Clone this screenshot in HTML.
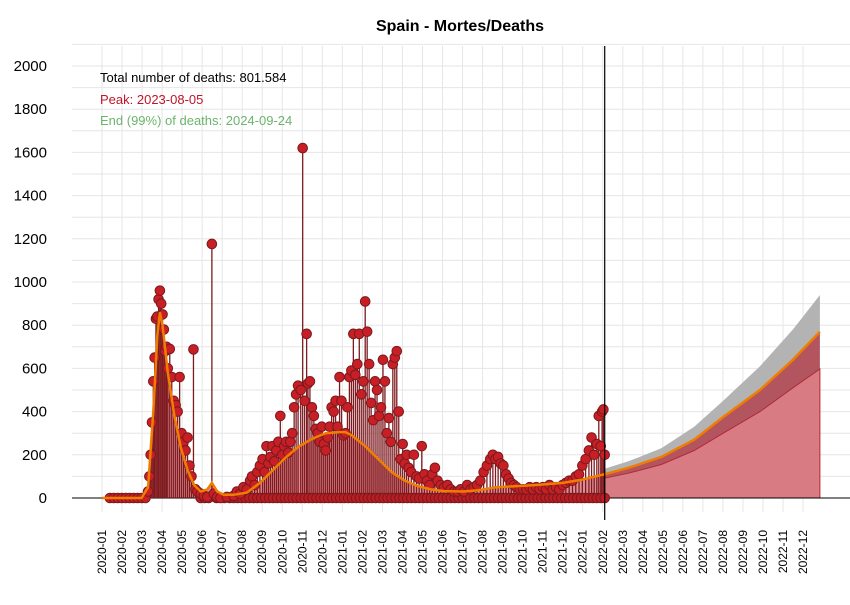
<!DOCTYPE html>
<html><head><meta charset="utf-8"><style>
body{margin:0;background:#fff;}
svg{font-family:"Liberation Sans",Arial,sans-serif;}
</style></head><body>
<svg id="chart" width="850" height="600">
<text x="460" y="31" text-anchor="middle" font-size="16" font-weight="bold">Spain - Mortes/Deaths</text>
<g id="grid"></g>
<g id="yaxis"></g>
<g id="xaxis"></g>
<g id="marks"></g>
<g>
<text x="100" y="82" font-size="13" fill="#000">Total number of deaths: 801.584</text>
<text x="100" y="104" font-size="13" fill="#c0142a">Peak: 2023-08-05</text>
<text x="100" y="125" font-size="13" fill="#6db36d">End (99%) of deaths: 2024-09-24</text>
</g>
</svg>
<script>
const monthLabels=["2020-01","2020-02","2020-03","2020-04","2020-05","2020-06","2020-07","2020-08","2020-09","2020-10","2020-11","2020-12","2021-01","2021-02","2021-03","2021-04","2021-05","2021-06","2021-07","2021-08","2021-09","2021-10","2021-11","2021-12","2022-01","2022-02","2022-03","2022-04","2022-05","2022-06","2022-07","2022-08","2022-09","2022-10","2022-11","2022-12"];
const yTicks=[0,200,400,600,800,1000,1200,1400,1600,1800,2000];
// daily deaths: day index since 2020-01-01
const dailyDays=[12,18,24,30,36,42,48,54,60,66,70,72,74,76,78,80,82,84,86,88,90,92,94,96,98,100,103,106,109,112,115,118,121,124,127,130,133,136,139,142,145,150,155,160,167,170,175,180,190,200,205,210,215,220,225,228,232,236,240,244,247,250,253,256,259,262,265,268,271,274,277,280,283,286,289,292,295,298,302,305,308,311,313,316,319,322,325,328,331,334,337,340,343,346,349,352,355,358,361,364,367,370,373,376,379,382,385,388,391,394,397,400,403,406,409,412,415,418,421,424,427,430,433,436,439,442,445,448,451,454,457,460,463,466,470,474,478,482,486,490,494,498,502,506,510,515,520,525,530,535,540,545,550,555,560,565,570,575,580,585,590,594,598,602,606,610,614,618,622,626,630,635,640,645,650,655,660,665,670,675,680,685,690,695,700,705,710,715,720,725,730,735,740,744,748,752,755,758,760,762,764];
const dailyDeaths=[0,0,0,0,0,0,0,0,0,0,30,100,200,350,540,650,830,840,920,960,900,850,780,680,700,600,690,560,450,430,400,560,300,260,220,280,150,100,688,40,30,20,10,5,1176,20,5,0,5,10,30,20,50,40,80,100,60,120,150,180,120,240,160,190,240,170,220,260,380,200,240,260,210,260,300,420,480,520,500,1620,450,760,530,540,420,380,320,300,260,330,250,220,280,330,420,400,450,330,560,450,290,300,420,560,590,760,570,620,760,480,540,910,770,620,440,360,540,500,380,420,640,540,300,370,260,620,650,680,400,180,250,160,200,140,120,200,100,90,240,110,80,60,110,140,80,60,50,60,40,30,30,40,30,60,40,50,60,80,120,150,180,200,180,190,160,150,110,90,70,60,50,40,40,40,50,40,50,40,50,40,60,40,50,40,60,70,80,80,100,110,150,180,220,280,200,250,380,240,400,410,200];
// days with zero reported deaths (weekend/no-report days)
const zeroReportDays=[150,156,162,174,186,194,200,206,212,218,224,230,236,242,248,254,260,266,272,278,284,290,296,302,308,314,320,326,332,338,344,350,356,362,368,374,380,386,392,398,404,410,416,422,428,434,440,446,452,458,464,470,476,482,488,494,500,506,512,518,524,530,536,542,548,554,560,566,572,578,584,590,596,602,608,614,620,626,632,638,644,650,656,662,668,674,680,686,692,698,704,710,716,722,728,734,740,746,752,758,764];
const trendDays=[0,60,70,78,84,88,92,100,110,120,130,140,150,160,167,175,185,200,220,240,260,280,300,320,340,360,370,380,400,420,440,460,480,500,520,549,570,600,630,660,700,730,764];
const trendVals=[0,0,50,400,750,860,800,580,380,230,130,60,30,40,70,30,15,15,25,70,130,190,240,275,300,305,305,290,240,180,120,80,55,40,32,30,35,50,55,60,70,85,110];
const fcDays=[764,800,850,900,944,1000,1050,1091];
const fcTrend=[110,140,190,270,375,500,640,770];
const fcUpper=[135,170,230,330,450,610,780,940];
const fcLower=[92,115,155,220,300,400,510,597];

const NS="http://www.w3.org/2000/svg";
const X=d=>102+d*0.658;
const Y=v=>498-v*0.216;
function mk(tag,attrs,parent){const e=document.createElementNS(NS,tag);for(const k in attrs)e.setAttribute(k,attrs[k]);parent.appendChild(e);return e;}
const grid=document.getElementById('grid'),yax=document.getElementById('yaxis'),xax=document.getElementById('xaxis'),marks=document.getElementById('marks');
for(let v=0;v<=2100;v+=100){const l=mk('line',{x1:72,x2:850,y1:Y(v),y2:Y(v),stroke:'#e6e6e6','stroke-width':1},grid);

}
monthLabels.forEach((m,i)=>{const x=102+i*20.03;
const l=mk('line',{x1:x,x2:x,y1:46,y2:512,stroke:'#e6e6e6','stroke-width':1},grid);


const t=mk('text',{x:0,y:0,'font-size':12,'text-anchor':'end',transform:`translate(${x+4},530) rotate(-90)`},xax);
t.textContent=m;

});
yTicks.forEach(v=>{const t=mk('text',{x:47,y:Y(v)+5,'font-size':15,'text-anchor':'end'},yax);t.textContent=v;

});
function pts(ds,vs){return ds.map((d,i)=>X(d).toFixed(1)+','+Y(vs[i]).toFixed(1));}
function band(ds,lo,hi){return pts(ds,hi).concat(pts(ds,lo).reverse()).join(' ');}
const ha=mk('polygon',{points:pts(trendDays,trendVals).join(' ')+` ${X(764)},${Y(0)} ${X(0)},${Y(0)}`,fill:'#d97b83',opacity:0.85},marks);


const zeros=fcDays.map(()=>0);
const g1=mk('polygon',{points:band(fcDays,fcTrend,fcUpper),fill:'#b3b3b3'},marks);


const g2=mk('polygon',{points:band(fcDays,fcLower,fcTrend),fill:'#b3555f'},marks);


const g3=mk('polygon',{points:band(fcDays,zeros,fcLower),fill:'#d97b83',stroke:'#b02a37','stroke-width':1},marks);


const bl=mk('line',{x1:72,x2:850,y1:Y(0),y2:Y(0),stroke:'#000','stroke-width':1},marks);


dailyDays.forEach((d,i)=>{const s=mk('line',{x1:X(d),x2:X(d),y1:Y(0),y2:Y(dailyDeaths[i]),stroke:'#7d1a1f','stroke-width':1.3},marks);

});
zeroReportDays.forEach(d=>{const c=mk('circle',{cx:X(d),cy:Y(0),r:4.8,fill:'#b81c24',stroke:'#7a1a1c','stroke-width':1},marks);

});
dailyDays.forEach((d,i)=>{const c=mk('circle',{cx:X(d),cy:Y(dailyDeaths[i]),r:4.8,fill:'#c81e26',stroke:'#7a1a1c','stroke-width':1},marks);

});
const tl=mk('polyline',{points:pts(trendDays,trendVals).join(' '),fill:'none',stroke:'#f07d00','stroke-width':2.5},marks);


const fl=mk('polyline',{points:pts(fcDays,fcTrend).join(' '),fill:'none',stroke:'#f07d00','stroke-width':2.5},marks);


const vl=mk('line',{x1:X(764),x2:X(764),y1:46,y2:520,stroke:'#000','stroke-width':1.2},marks);


</script>
</body></html>
